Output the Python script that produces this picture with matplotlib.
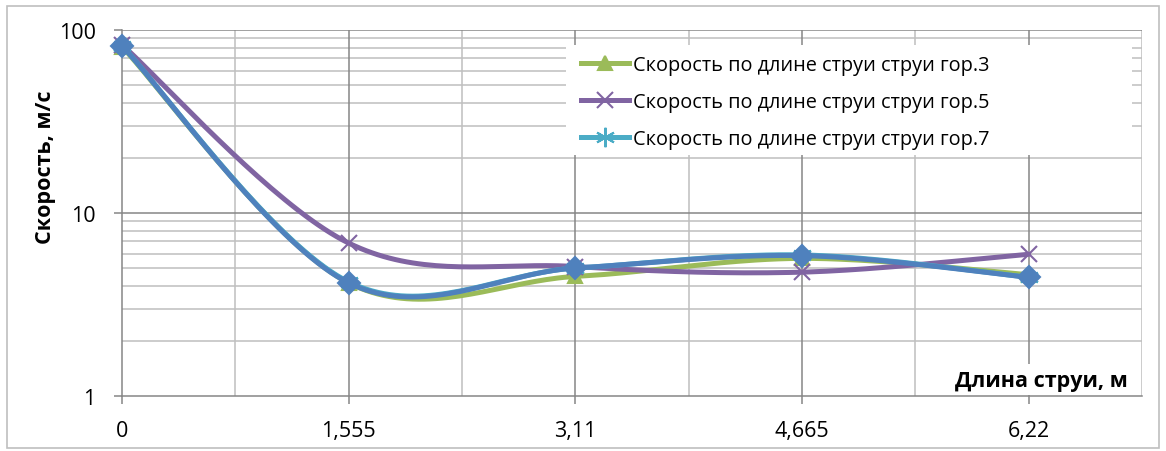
import numpy as np
import matplotlib
matplotlib.use("Agg")
import matplotlib.pyplot as plt
from matplotlib.patches import Rectangle
from matplotlib.ticker import FixedLocator, NullFormatter

plt.rcParams['font.family'] = ['Open Sans', 'DejaVu Sans']

# jet length categories (comma decimals as printed on the axis)
x_labels = ["0", "1,555", "3,11", "4,665", "6,22"]

# velocity along the jet, m/s
speed_h3 = [81.0, 4.15, 4.5, 5.65, 4.6]
speed_h5 = [83.0, 6.85, 5.1, 4.75, 5.95]
speed_h7 = [82.0, 4.2, 5.0, 5.9, 4.45]
speed_extra = [82.0, 4.15, 5.0, 5.85, 4.45]

W, H = 1166, 452
DPI = 100
PX_X = 226.0   # pixels per category
PX_Y = 183.0   # pixels per decade


def smooth(xs, ys, n=40):
    # Catmull-Rom style bezier smoothing done in screen-like units (log y)
    px = np.asarray(xs, float) * PX_X
    py = np.log10(np.asarray(ys, float)) * PX_Y
    pts = np.column_stack([px, py])
    out = [pts[0]]
    for i in range(len(pts) - 1):
        p0 = pts[i - 1] if i > 0 else pts[i]
        p1 = pts[i]
        p2 = pts[i + 1]
        p3 = pts[i + 2] if i + 2 < len(pts) else pts[i + 1]
        c1 = p1 + (p2 - p0) / 6.0
        c2 = p2 - (p3 - p1) / 6.0
        t = np.linspace(0, 1, n)[1:, None]
        seg = ((1 - t) ** 3) * p1 + 3 * ((1 - t) ** 2) * t * c1 + 3 * (1 - t) * t ** 2 * c2 + t ** 3 * p2
        out.extend(seg)
    out = np.array(out)
    return out[:, 0] / PX_X, 10 ** (out[:, 1] / PX_Y)


fig = plt.figure(figsize=(W / DPI, H / DPI), dpi=DPI)
ax = fig.add_axes([122 / W, 1 - 397 / H, (1142 - 122) / W, (397 - 31) / H])

ax.set_yscale('log')
ax.set_ylim(1, 100)
ax.set_xlim(0, 4.5)

idx = np.arange(len(x_labels))

# grid
for v in [0.5, 1.5, 2.5, 3.5, 4.5]:
    ax.axvline(v, color='#BFBFBF', lw=1.1, zorder=1)
for v in [1, 2, 3, 4]:
    ax.axvline(v, color='#868686', lw=1.1, zorder=1.5)
for d in [1, 10]:
    for k in range(2, 10):
        ax.axhline(d * k, color='#BFBFBF', lw=1.1, zorder=1)
for v in [10, 100]:
    ax.axhline(v, color='#868686', lw=1.1, zorder=1.5)

for s in ['top', 'right']:
    ax.spines[s].set_visible(False)
for s in ['left', 'bottom']:
    ax.spines[s].set_color('#868686')
    ax.spines[s].set_linewidth(1.1)

ax.yaxis.set_major_locator(FixedLocator([1, 10, 100]))
ax.yaxis.set_minor_locator(FixedLocator([]))
ax.yaxis.set_minor_formatter(NullFormatter())
ax.set_yticklabels(["1", "10", "100"])
ax.set_xticks(idx)
ax.set_xticklabels(x_labels)
ax.tick_params(axis='both', which='major', direction='out', length=6, width=1.1,
               color='#868686', labelsize=15.5, labelcolor='black')
ax.tick_params(axis='y', pad=13)
ax.tick_params(axis='x', pad=11)

series = [
    (speed_h3, '#9BBB59', '^', 10, "Скорость по длине струи струи гор.3"),
    (speed_h5, '#8064A2', 'x', 12, "Скорость по длине струи струи гор.5"),
    (speed_h7, '#4BACC6', (6, 2, 0), 14, "Скорость по длине струи струи гор.7"),
    (speed_extra, '#4F81BD', 'D', 11, '_nolegend_'),
]

handles = []
for i, (vals, col, mk, ms, lab) in enumerate(series):
    sx, sy = smooth(idx, vals)
    ax.plot(sx, sy, color=col, lw=3.6, solid_capstyle='round', zorder=3 + i, clip_on=False)
    ax.plot(idx, vals, ls='none', marker=mk, ms=ms, color=col, mec=col, mew=1.5,
            zorder=3 + i, clip_on=False)
    if not lab.startswith('_'):
        h, = ax.plot([], [], color=col, lw=3.6, marker=mk, ms=ms, mec=col, mew=1.5, label=lab)
        handles.append(h)

# legend on a white patch
fig.patches.append(Rectangle((566 / W, 1 - 156 / H), (1132 - 566) / W, (156 - 46) / H,
                             transform=fig.transFigure, facecolor='white', edgecolor='none', zorder=2))
leg = fig.legend(handles=handles, loc='upper left', bbox_to_anchor=(567 / W, 1 - 42 / H),
                 frameon=False, fontsize=14.3, handlelength=2.4, handletextpad=0.2,
                 labelspacing=0.85, borderpad=0.2)

# x axis title with white background inside the plot
fig.patches.append(Rectangle((940 / W, 1 - 396 / H), (1141 - 940) / W, (396 - 365) / H,
                             transform=fig.transFigure, facecolor='white', edgecolor='none', zorder=2))
fig.text(1128 / W, 1 - 381 / H, "Длина струи, м", ha='right', va='center',
         fontsize=15.5, fontweight='bold', zorder=5)

fig.text(46 / W, 1 - 167 / H, "Скорость, м/с", ha='center', va='center',
         rotation=90, fontsize=15.5, fontweight='bold')

# outer chart border
fig.patches.append(Rectangle((7 / W, 1 - 449 / H), (1159 - 7) / W, (449 - 7) / H,
                             transform=fig.transFigure, facecolor='none', edgecolor='#BFBFBF',
                             lw=1.2))

fig.savefig("out.png", dpi=DPI)
